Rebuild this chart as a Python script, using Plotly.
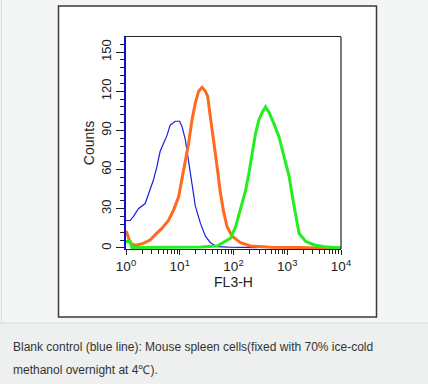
import plotly.graph_objects as go

# ---- data ----
blue_x = [1.0, 1.19, 1.37, 1.70, 2.27, 2.81, 3.24, 3.75, 4.32, 4.98, 5.77, 6.64, 8.24, 9.91,
          11.0, 12.7, 14.6, 16.9, 19.5, 24.2, 30.0, 37.2, 49.6, 80.0, 150.0, 281.0]
blue_y = [21, 21, 24, 30, 34, 44, 52, 62, 74, 80, 86, 94, 97, 97,
          93, 83, 67, 47, 32, 19, 9, 4, 1, 0.6, 0.4, 0.2]

orange_x = [1.0, 1.03, 1.19, 1.47, 2.10, 2.81, 3.48, 4.65, 6.17, 7.66, 9.50, 11.0, 12.7, 14.6,
            16.9, 19.5, 22.5, 26.0, 30.0, 33.1, 37.2, 42.8, 49.6, 57.1, 65.9, 76.3, 94.6,
            117, 135, 208, 492, 1787, 3126, 10000]
orange_y = [13, 12, 4, 2, 3.5, 6, 10, 15, 21, 29, 39, 52, 65, 80,
            98, 111, 120, 123, 120, 116, 100, 83, 62, 42, 27, 16, 9,
            6, 4, 1.5, 0.5, 0.3, 0, 0]

green_x = [1.0, 1.2, 1.29, 11.6, 24.2, 49.6, 76.3, 87.9, 109, 135, 168, 193, 224, 258, 297,
           344, 396, 457, 567, 703, 871, 1081, 1250, 1442, 1663, 2218, 3170, 4875, 8670, 10000]
green_y = [5, 5, 0.3, 0.3, 0.8, 1.5, 6, 7.4, 16, 29, 44, 57, 72, 88, 98,
           104, 108, 104, 95, 85, 70, 55, 39, 24, 11, 5, 2.3, 1, 0, 0]

x_tick_vals = [1, 10, 100, 1000, 10000]
x_tick_text = ["10<sup>0</sup>", "10<sup>1</sup>", "10<sup>2</sup>", "10<sup>3</sup>", "10<sup>4</sup>"]
x_minor_vals = [m * d for d in [1, 10, 100, 1000] for m in range(2, 10)]
y_tick_vals = [0, 30, 60, 90, 120, 150]
y_minor_vals = list(range(0, 162, 6))

caption_lines = ["Blank control (blue line): Mouse spleen cells(fixed with 70% ice-cold",
                 "methanol overnight at 4\u2103)."]

# ---- layout geometry ----
W, H = 428, 384
L, R, T, B = 126, 341, 37, 249
pw, ph = R - L, B - T


def px(x):
    return (x - L) / pw


def py(y):
    return (B - y) / ph


FONT = "Liberation Sans, Arial, sans-serif"

fig = go.Figure()
fig.add_trace(go.Scatter(x=blue_x, y=blue_y, mode="lines",
                         line=dict(color="#1e1ee0", width=1.2), showlegend=False))
fig.add_trace(go.Scatter(x=orange_x, y=orange_y, mode="lines",
                         line=dict(color="#ff6a1e", width=3), showlegend=False))
fig.add_trace(go.Scatter(x=green_x, y=green_y, mode="lines",
                         line=dict(color="#22ee22", width=3), showlegend=False))

shapes = [
    # caption band
    dict(type="rect", xref="paper", yref="paper", x0=px(0), x1=px(W), y0=py(323), y1=py(H),
         fillcolor="#eef0ef", line=dict(width=0), layer="below"),
    dict(type="line", xref="paper", yref="paper", x0=px(0), x1=px(W), y0=py(323), y1=py(323),
         line=dict(color="#dcdcdc", width=1), layer="below"),
    dict(type="line", xref="paper", yref="paper", x0=px(1.5), x1=px(1.5), y0=py(0), y1=py(323),
         line=dict(color="#dcdcdc", width=1), layer="below"),
    # white framed box
    dict(type="rect", xref="paper", yref="paper", x0=px(58.5), x1=px(376.5), y0=py(6), y1=py(317),
         fillcolor="white", line=dict(color="#3a3a3a", width=1.5), layer="below"),
    # right border of plot
    dict(type="line", xref="paper", yref="paper", x0=1, x1=1, y0=0, y1=1,
         line=dict(color="#222222", width=1.2)),
]

annotations = []
for i, t in enumerate(caption_lines):
    annotations.append(dict(text=t, xref="paper", yref="paper", x=px(11), y=py(347 + 23 * i),
                            xanchor="left", yanchor="middle", showarrow=False,
                            font=dict(family=FONT, size=12, color="#333333")))

fig.update_layout(
    width=W, height=H,
    margin=dict(l=L, r=W - R, t=T, b=H - B, pad=0),
    paper_bgcolor="#f4f5f5",
    plot_bgcolor="white",
    font=dict(family=FONT, size=13, color="#222222"),
    shapes=shapes,
    annotations=annotations,
    hovermode=False,
    xaxis=dict(type="log", range=[0, 4], tickmode="array", tickvals=x_tick_vals,
               ticktext=x_tick_text, ticks="outside", ticklen=5, tickwidth=1, tickcolor="#222",
               minor=dict(tickmode="array", tickvals=x_minor_vals, ticks="outside", ticklen=4,
                          tickcolor="#222", showgrid=False),
               showline=True, linecolor="#222", linewidth=1.2, mirror=True,
               showgrid=False, zeroline=False,
               title=dict(text="FL3-H", standoff=3, font=dict(size=14)),
               tickfont=dict(size=13.5)),
    yaxis=dict(range=[-0.8, 161.5], tickmode="array", tickvals=y_tick_vals, tickangle=-90,
               ticks="outside", ticklen=8, tickwidth=1, tickcolor="#222",
               minor=dict(tickmode="array", tickvals=y_minor_vals, ticks="outside", ticklen=4,
                          tickcolor="#222", showgrid=False),
               showline=True, linecolor="#1010d0", linewidth=2.2, mirror=False,
               showgrid=False, zeroline=False, layer="below traces",
               title=dict(text="Counts", standoff=1, font=dict(size=14)),
               tickfont=dict(size=13)),
)

fig.write_html("out.html",
               config={"displayModeBar": False, "staticPlot": True},
               post_script="document.body.style.margin='0';document.body.style.padding='0';"
                           "document.body.style.overflow='hidden';")
